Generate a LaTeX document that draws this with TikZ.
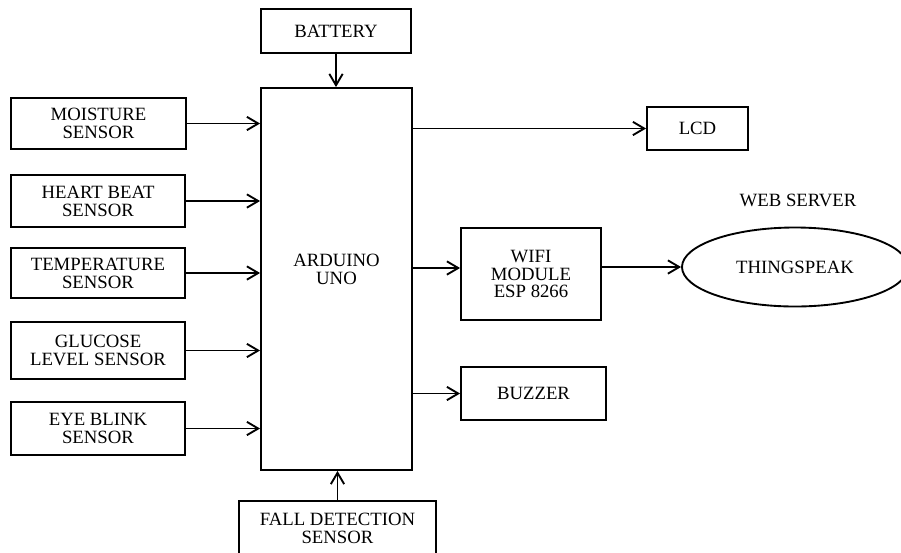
\documentclass[tikz,border=0pt]{standalone}
\usepackage{fontspec}
\setmainfont{Liberation Serif}
\usetikzlibrary{arrows.meta, shapes.geometric}
\begin{document}
\begin{tikzpicture}[>={Straight Barb[length=3.4mm,width=4mm]},
    block/.style={draw, line width=1.6pt, rectangle, align=center, inner sep=0pt,
        font=\fontsize{16}{15.3}\selectfont},
    link/.style={->, line width=1.6pt}]
    \useasboundingbox (0,0) rectangle (27.03,-16.56);
    % controller and power
    \node[block, minimum width=4.53cm, minimum height=11.46cm,
        label={[font=\fontsize{16}{15.3}\selectfont, align=center, yshift=0.3cm]center:ARDUINO\\UNO}] (uno) at (10.095, -8.37) {};
    \node[block, minimum width=4.5cm, minimum height=1.32cm] (batt) at (10.08, -0.93) {BATTERY};

    % sensors
    \node[block, minimum width=5.25cm, minimum height=1.53cm] (moist) at (2.955, -3.705) {MOISTURE\\SENSOR};
    \node[block, minimum width=5.22cm, minimum height=1.56cm] (heart) at (2.94, -6.03) {HEART BEAT\\SENSOR};
    \node[block, minimum width=5.22cm, minimum height=1.5cm] (temp) at (2.94, -8.19) {TEMPERATURE\\SENSOR};
    \node[block, minimum width=5.22cm, minimum height=1.71cm] (gluc) at (2.94, -10.515) {GLUCOSE\\LEVEL SENSOR};
    \node[block, minimum width=5.22cm, minimum height=1.59cm] (eye) at (2.94, -12.855) {EYE BLINK\\SENSOR};
    \node[block, minimum width=5.91cm, minimum height=1.65cm] (fall) at (10.125, -15.855) {FALL DETECTION\\SENSOR};

    % outputs
    \node[block, minimum width=3.03cm, minimum height=1.29cm] (lcd) at (20.925, -3.855) {LCD};
    \node[block, minimum width=4.2cm, minimum height=2.76cm] (wifi) at (15.93, -8.22) {WIFI\\MODULE\\ESP 8266};
    \node[block, minimum width=4.35cm, minimum height=1.59cm] (buzz) at (16.005, -11.805) {BUZZER};
    \node[draw, line width=1.6pt, ellipse, minimum width=6.78cm, minimum height=2.37cm,
        font=\fontsize{16}{15.3}\selectfont] (ts) at (23.85, -8.01) {THINGSPEAK};
    \node[font=\fontsize{16}{15.3}\selectfont] (web) at (23.94, -6.0) {WEB SERVER};

    % arrows
    \draw[link] (batt.south) -- (batt.south |- uno.north);
    \foreach \s in {moist, heart, temp, gluc, eye}
        \draw[link] (\s.east) -- (\s.east -| uno.west);
    \draw[link] (fall.north) -- (fall.north |- uno.south);
    \draw[link] (uno.east |- lcd.west) -- (lcd.west);
    \draw[link] ([yshift=0.18cm]wifi.west -| uno.east) -- ([yshift=0.18cm]wifi.west);
    \draw[link] (uno.east |- buzz.west) -- (buzz.west);
    \draw[link] (wifi.east |- ts.west) -- (ts.west);
\end{tikzpicture}
\end{document}
